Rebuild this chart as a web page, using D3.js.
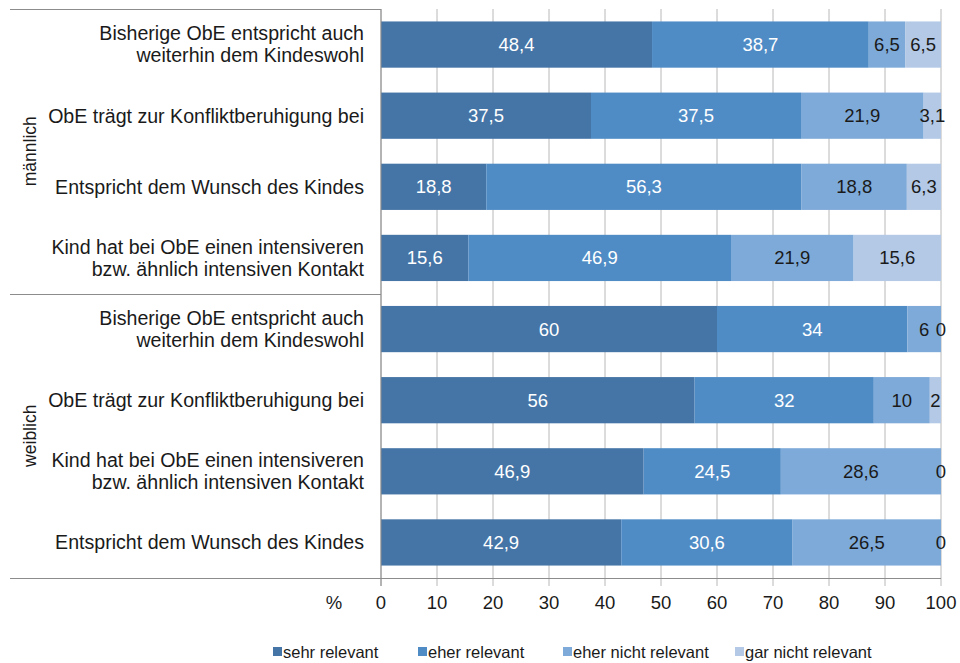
<!DOCTYPE html>
<html>
<head>
<meta charset="utf-8">
<script src="https://cdn.jsdelivr.net/npm/d3@7"></script>
<style>
  body { margin: 0; background: #fff; }
  text { font-family: Arial, "Liberation Sans", sans-serif; }
</style>
</head>
<body>
<div id="chart"></div>
<script>
// categories (top to bottom), grouped by gender
var groups = ["männlich", "weiblich"];
var categories = [
  ["Bisherige ObE entspricht auch", "weiterhin dem Kindeswohl"],
  ["ObE trägt zur Konfliktberuhigung bei"],
  ["Entspricht dem Wunsch des Kindes"],
  ["Kind hat bei ObE einen intensiveren", "bzw. ähnlich intensiven Kontakt"],
  ["Bisherige ObE entspricht auch", "weiterhin dem Kindeswohl"],
  ["ObE trägt zur Konfliktberuhigung bei"],
  ["Kind hat bei ObE einen intensiveren", "bzw. ähnlich intensiven Kontakt"],
  ["Entspricht dem Wunsch des Kindes"]
];
var categoryGroup = [0, 0, 0, 0, 1, 1, 1, 1];

var seriesNames = ["sehr relevant", "eher relevant", "eher nicht relevant", "gar nicht relevant"];
var sehrRelevant      = [48.4, 37.5, 18.8, 15.6, 60, 56, 46.9, 42.9];
var eherRelevant      = [38.7, 37.5, 56.3, 46.9, 34, 32, 24.5, 30.6];
var eherNichtRelevant = [6.5, 21.9, 18.8, 21.9, 6, 10, 28.6, 26.5];
var garNichtRelevant  = [6.5, 3.1, 6.3, 15.6, 0, 2, 0, 0];
var xTicks = [0, 10, 20, 30, 40, 50, 60, 70, 80, 90, 100];

var colors = ["#4575a6", "#4f8cc6", "#7eaad9", "#b3c9e6"];
var labelColors = ["#ffffff", "#ffffff", "#1a1a1a", "#1a1a1a"];

var width = 960, height = 663;
var mLeft = 381, mRight = 941, mTop = 9, mBottom = 578;
var fs = 18.5;
var legendX = [273, 418, 563, 735];

var svg = d3.select("#chart").append("svg")
  .attr("width", width)
  .attr("height", height);

var x = d3.scaleLinear().domain([0, 100]).range([mLeft, mRight]);
var y = d3.scaleBand().domain(d3.range(categories.length)).range([mTop, mBottom]).paddingInner(0.35).paddingOuter(0.175);

// gridlines
svg.append("g").selectAll("line")
  .data(xTicks)
  .enter().append("line")
  .attr("x1", function (d) { return x(d); })
  .attr("x2", function (d) { return x(d); })
  .attr("y1", mTop)
  .attr("y2", mBottom + 8)
  .attr("stroke", "#b8b8b8")
  .attr("stroke-width", 1);

// stacked data
var table = categories.map(function (c, i) {
  return { i: i, v: [sehrRelevant[i], eherRelevant[i], eherNichtRelevant[i], garNichtRelevant[i]] };
});
var segs = [];
table.forEach(function (row) {
  var acc = 0;
  row.v.forEach(function (v, k) {
    segs.push({ i: row.i, k: k, x0: Math.min(100, acc), x1: Math.min(100, acc + v), v: v });
    acc += v;
  });
});

svg.append("g").selectAll("rect")
  .data(segs)
  .enter().append("rect")
  .attr("x", function (d) { return x(d.x0); })
  .attr("y", function (d) { return y(d.i); })
  .attr("width", function (d) { return x(d.x1) - x(d.x0); })
  .attr("height", y.bandwidth())
  .attr("fill", function (d) { return colors[d.k]; });

svg.append("g").selectAll("text")
  .data(segs)
  .enter().append("text")
  .attr("x", function (d) { return x((d.x0 + d.x1) / 2); })
  .attr("y", function (d) { return y(d.i) + y.bandwidth() / 2; })
  .attr("dy", "0.35em")
  .attr("text-anchor", "middle")
  .attr("font-size", fs)
  .attr("fill", function (d) { return labelColors[d.k]; })
  .text(function (d) { return String(d.v).replace(".", ","); });

// axes frame lines
var frame = svg.append("g").attr("stroke", "#8c8c8c").attr("stroke-width", 1);
frame.append("line").attr("x1", mLeft).attr("x2", mLeft).attr("y1", mTop).attr("y2", mBottom + 8);
frame.append("line").attr("x1", 10).attr("x2", mLeft).attr("y1", mTop + 0.5).attr("y2", mTop + 0.5);
frame.append("line").attr("x1", 10).attr("x2", mRight).attr("y1", mBottom + 0.5).attr("y2", mBottom + 0.5);
var sepY = Math.round((y(3) + y.bandwidth() + y(4)) / 2) + 0.5;
frame.append("line").attr("x1", 10).attr("x2", mLeft).attr("y1", sepY).attr("y2", sepY);

// x tick labels
svg.append("g").selectAll("text")
  .data(xTicks)
  .enter().append("text")
  .attr("x", function (d) { return x(d); })
  .attr("y", 603)
  .attr("dy", "0.35em")
  .attr("text-anchor", "middle")
  .attr("font-size", fs)
  .attr("fill", "#1a1a1a")
  .text(function (d) { return d; });

svg.append("text")
  .attr("x", 334).attr("y", 603).attr("dy", "0.35em")
  .attr("text-anchor", "middle").attr("font-size", fs).attr("fill", "#1a1a1a")
  .text("%");

// category labels
var cat = svg.append("g").selectAll("text")
  .data(categories)
  .enter().append("text")
  .attr("text-anchor", "end")
  .attr("font-size", 19.6)
  .attr("fill", "#1a1a1a")
  .attr("transform", function (d, i) {
    return "translate(364," + (y(i) + y.bandwidth() / 2) + ")";
  });
cat.selectAll("tspan")
  .data(function (d) { return d; })
  .enter().append("tspan")
  .attr("x", 0)
  .attr("y", function (d, j, nodes) { return (j - (nodes.length - 1) / 2) * 22; })
  .attr("dy", "0.35em")
  .text(function (d) { return d; });

// group labels
svg.append("g").selectAll("text")
  .data(groups)
  .enter().append("text")
  .attr("text-anchor", "middle")
  .attr("font-size", 17.5)
  .attr("fill", "#1a1a1a")
  .attr("transform", function (d, g) {
    var idx = categoryGroup.map(function (c, i) { return c === g ? i : -1; }).filter(function (i) { return i >= 0; });
    var y0 = y(idx[0]) - y.step() * y.paddingInner() / 2;
    var y1 = y(idx[idx.length - 1]) + y.bandwidth() + y.step() * y.paddingInner() / 2;
    return "translate(30," + ((y0 + y1) / 2) + ") rotate(-90)";
  })
  .attr("dy", "0.35em")
  .text(function (d) { return d; });

// legend
var legend = svg.append("g").attr("transform", "translate(0,652)");
seriesNames.forEach(function (name, k) {
  var item = legend.append("g").attr("transform", "translate(" + legendX[k] + ",0)");
  item.append("rect").attr("x", 0).attr("y", -5).attr("width", 9).attr("height", 9).attr("fill", colors[k]);
  item.append("text").attr("x", 10).attr("dy", "0.35em").attr("font-size", 16.5).attr("fill", "#1a1a1a").text(name);
});
</script>
</body>
</html>
